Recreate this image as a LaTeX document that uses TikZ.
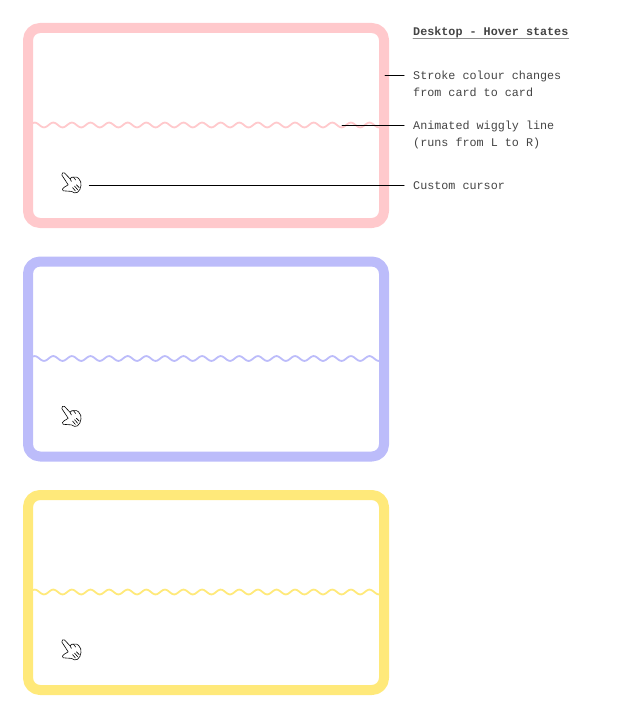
\documentclass[tikz,border=0pt]{standalone}
\usepackage{fontspec}
\setmonofont{Liberation Mono}
\definecolor{cardpink}{HTML}{FFC9CC}
\definecolor{cardblue}{HTML}{BCBCFA}
\definecolor{cardyellow}{HTML}{FFE97A}
\definecolor{labgrey}{HTML}{444444}
\tikzset{
    lab/.style={
        font=\fontsize{11.75}{14}\selectfont\ttfamily,
        text=labgrey, anchor=west, inner xsep=9pt, inner ysep=0pt,
        text height=10pt, text depth=2pt
    },
    leader/.style={line width=1pt, color=black},
    cardframe/.style={line width=10pt, rounded corners=12pt},
    hand/.pic={
        \draw[line width=0.6pt, fill=white, line join=round]
            (0.8,3) .. controls (0.4,1) and (2.4,-0.2) .. (3.6,1)
            -- (9,6.8) .. controls (10,5.2) and (11.4,4.8) .. (12.6,5.2)
            .. controls (14.6,4.6) and (16.6,5) .. (17.6,6.4)
            .. controls (19.6,8.4) and (20.4,11) .. (20,13.4)
            .. controls (19.8,16.4) and (18.4,19) .. (16.4,20.4)
            .. controls (14.6,21.6) and (12.4,20.8) .. (10.6,19.4)
            .. controls (8,18.4) and (4.4,19.8) .. (2.2,18.8)
            .. controls (0.8,17.8) and (1.4,16.4) .. (3,15.4)
            -- (7.2,12.8) -- (0.8,3) -- cycle;
        \draw[line width=0.6pt] (11.6,15.6) -- (14.4,19) (13.6,14.2) -- (16.6,17.6)
            (15.4,12.8) -- (18.2,15.6) (12.6,5.2) -- (14.6,8) (9,6.8) -- (10.4,9.4);
    }
}

\begin{document}
\begin{tikzpicture}[x=1pt,y=-1pt, line cap=round, line join=round]

\useasboundingbox (0,0) rectangle (617,725);

% three cards, one below the other
\foreach \col/\yT in {cardpink/0,cardblue/233.5,cardyellow/467} {
  \begin{scope}[yshift=-\yT pt]
    \draw[cardframe, color=\col] (28,28) rectangle (384,223);
    \draw[line width=1.8pt, color=\col, line cap=butt]
      plot[domain=33:379, samples=350, smooth] (\x,{125+2.4*cos((\x-44)/18.6*360)});
    \pic at (61,172) {hand};
  \end{scope}
}

% notes
\node[lab, font=\fontsize{11.75}{14}\selectfont\ttfamily\bfseries] (title) at (404,32) {Desktop - Hover states};
\node[lab] (stroke) at (404,75.3) {Stroke colour changes};
\node[lab] (strokeb) at (404,92.3) {from card to card};
\node[lab] (wiggly) at (404,125) {Animated wiggly line};
\node[lab] (wigglyb) at (404,142) {(runs from L to R)};
\node[lab] (cursor) at (404,185) {Custom cursor};

\draw[line width=1pt, color=labgrey!60] ([xshift=9pt,yshift=-0.6pt]title.south west) -- ([xshift=-9pt,yshift=-0.6pt]title.south east);

\coordinate (strokeend) at (385,75.3);
\coordinate (wigglyend) at (342,125);
\coordinate (cursorend) at (89.3,185);

\draw[leader] (strokeend) -- (stroke.west);
\draw[leader] (wigglyend) -- (wiggly.west);
\draw[leader] (cursorend) -- (cursor.west);

\end{tikzpicture}
\end{document}
